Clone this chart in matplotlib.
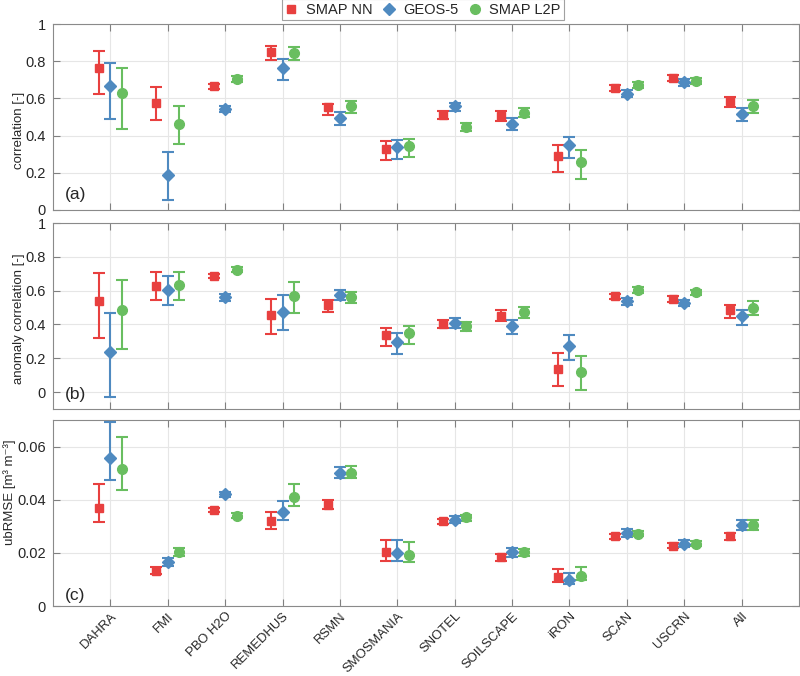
import matplotlib.pyplot as plt
from matplotlib.lines import Line2D
import numpy as np

plt.rcParams['font.family'] = ['Liberation Sans', 'DejaVu Sans']

redes = ['DAHRA', 'FMI', 'PBO H2O', 'REMEDHUS', 'RSMN', 'SMOSMANIA',
         'SNOTEL', 'SOILSCAPE', 'iRON', 'SCAN', 'USCRN', 'All']
modelos = ['SMAP NN', 'GEOS-5', 'SMAP L2P']

# (a) correlation: valor, limite inferior, limite superior
r_nn = [0.762, 0.575, 0.664, 0.848, 0.552, 0.329, 0.512, 0.507, 0.289, 0.655, 0.711, 0.584]
r_nn_lo = [0.625, 0.482, 0.650, 0.807, 0.512, 0.268, 0.490, 0.480, 0.204, 0.641, 0.695, 0.552]
r_nn_hi = [0.855, 0.661, 0.679, 0.884, 0.572, 0.370, 0.534, 0.530, 0.348, 0.670, 0.727, 0.605]
r_geos = [0.664, 0.188, 0.545, 0.762, 0.495, 0.341, 0.557, 0.464, 0.348, 0.625, 0.686, 0.516]
r_geos_lo = [0.491, 0.054, 0.525, 0.698, 0.455, 0.275, 0.530, 0.430, 0.277, 0.607, 0.668, 0.477]
r_geos_hi = [0.793, 0.311, 0.561, 0.814, 0.525, 0.379, 0.575, 0.495, 0.393, 0.646, 0.704, 0.548]
r_l2p = [0.629, 0.464, 0.704, 0.846, 0.557, 0.343, 0.446, 0.521, 0.259, 0.673, 0.696, 0.561]
r_l2p_lo = [0.438, 0.354, 0.688, 0.804, 0.521, 0.286, 0.423, 0.498, 0.168, 0.655, 0.679, 0.521]
r_l2p_hi = [0.766, 0.561, 0.718, 0.879, 0.584, 0.382, 0.468, 0.546, 0.325, 0.689, 0.711, 0.589]

# (b) anomaly correlation
a_nn = [0.536, 0.629, 0.688, 0.454, 0.513, 0.335, 0.402, 0.452, 0.136, 0.566, 0.550, 0.483]
a_nn_lo = [0.320, 0.542, 0.675, 0.343, 0.473, 0.274, 0.377, 0.418, 0.034, 0.550, 0.533, 0.436]
a_nn_hi = [0.704, 0.708, 0.700, 0.552, 0.542, 0.379, 0.428, 0.485, 0.229, 0.582, 0.566, 0.515]
a_geos = [0.235, 0.606, 0.562, 0.473, 0.574, 0.298, 0.408, 0.389, 0.274, 0.536, 0.527, 0.448]
a_geos_lo = [-0.030, 0.517, 0.540, 0.365, 0.546, 0.227, 0.381, 0.343, 0.191, 0.513, 0.507, 0.396]
a_geos_hi = [0.467, 0.688, 0.582, 0.572, 0.601, 0.349, 0.436, 0.426, 0.339, 0.556, 0.546, 0.485]
a_l2p = [0.487, 0.635, 0.724, 0.566, 0.562, 0.347, 0.389, 0.473, 0.118, 0.606, 0.590, 0.497]
a_l2p_lo = [0.256, 0.546, 0.710, 0.467, 0.527, 0.286, 0.363, 0.438, 0.010, 0.586, 0.572, 0.454]
a_l2p_hi = [0.665, 0.710, 0.738, 0.653, 0.592, 0.389, 0.412, 0.501, 0.211, 0.621, 0.606, 0.536]

# (c) ubRMSE
u_nn = [0.0369, 0.0132, 0.0360, 0.0319, 0.0380, 0.0202, 0.0319, 0.0184, 0.0108, 0.0262, 0.0227, 0.0262]
u_nn_lo = [0.0315, 0.0121, 0.0352, 0.0291, 0.0366, 0.0171, 0.0309, 0.0171, 0.0092, 0.0252, 0.0218, 0.0250]
u_nn_hi = [0.0460, 0.0145, 0.0369, 0.0354, 0.0398, 0.0248, 0.0329, 0.0197, 0.0141, 0.0272, 0.0237, 0.0275]
u_geos = [0.0558, 0.0165, 0.0420, 0.0353, 0.0499, 0.0199, 0.0325, 0.0202, 0.0098, 0.0275, 0.0234, 0.0303]
u_geos_lo = [0.0476, 0.0149, 0.0410, 0.0325, 0.0482, 0.0168, 0.0313, 0.0184, 0.0083, 0.0260, 0.0222, 0.0287]
u_geos_hi = [0.0694, 0.0182, 0.0430, 0.0395, 0.0524, 0.0250, 0.0338, 0.0217, 0.0126, 0.0290, 0.0247, 0.0323]
u_l2p = [0.0514, 0.0205, 0.0340, 0.0411, 0.0499, 0.0193, 0.0334, 0.0202, 0.0113, 0.0272, 0.0234, 0.0303]
u_l2p_lo = [0.0436, 0.0190, 0.0332, 0.0378, 0.0482, 0.0164, 0.0321, 0.0187, 0.0096, 0.0262, 0.0226, 0.0287]
u_l2p_hi = [0.0637, 0.0220, 0.0349, 0.0459, 0.0527, 0.0240, 0.0344, 0.0216, 0.0147, 0.0284, 0.0245, 0.0323]

colores = ['#E8403F', '#4F8AC0', '#69BE60']
marcadores = ['s', 'D', 'o']
tamanos = [6, 6.5, 7]
desplaz = [-0.2, 0.0, 0.2]

# datos, etiqueta, limites, ticks, letra, y de la letra, posicion de la etiqueta
paneles = [
    ([r_nn, r_geos, r_l2p], [r_nn_lo, r_geos_lo, r_l2p_lo], [r_nn_hi, r_geos_hi, r_l2p_hi],
     'correlation [-]', (0, 1), np.arange(0, 1.01, 0.2), '(a)', 0.06, (-0.037, 0.43)),
    ([a_nn, a_geos, a_l2p], [a_nn_lo, a_geos_lo, a_l2p_lo], [a_nn_hi, a_geos_hi, a_l2p_hi],
     'anomaly correlation [-]', (-0.1, 1), np.arange(0, 1.01, 0.2), '(b)', 0.054, (-0.037, 0.484)),
    ([u_nn, u_geos, u_l2p], [u_nn_lo, u_geos_lo, u_l2p_lo], [u_nn_hi, u_geos_hi, u_l2p_hi],
     'ubRMSE [m\u00b3 m\u207b\u00b3]', (0, 0.07), np.arange(0, 0.061, 0.02), '(c)', 0.034, (-0.050, 0.613)),
]

fig = plt.figure(figsize=(8, 6.76), dpi=100)
H = 676.0
W = 800.0
# limites en pixeles (izq, arriba, der, abajo)
cajas = [(53, 24, 799, 210), (53, 223, 799, 409), (53, 420, 799, 606)]

x = np.arange(1, len(redes) + 1)
gris = '#262626'
for k, (vals, los, his, ylab, ylim, yt, letra, ytxt, lpos) in enumerate(paneles):
    l, t, r, b = cajas[k]
    ax = fig.add_axes([l / W, 1 - b / H, (r - l) / W, (b - t) / H])
    for i in range(3):
        v = np.array(vals[i])
        err = [v - np.array(los[i]), np.array(his[i]) - v]
        ax.errorbar(x + desplaz[i], v, yerr=err, fmt=marcadores[i], color=colores[i],
                    ms=tamanos[i], mec=colores[i], elinewidth=1.5,
                    capsize=4.5, capthick=1.5, zorder=3)
    ax.set_xlim(0, 13)
    ax.set_ylim(*ylim)
    ax.set_xticks(x)
    ax.set_yticks(yt)
    ax.grid(True, color='#E6E6E6', linewidth=0.8)
    ax.set_axisbelow(True)
    ax.tick_params(direction='in', length=5, width=0.8, color='#808080', labelcolor=gris,
                   labelsize=10.5, top=True, right=True)
    ax.tick_params(axis='y', pad=5)
    if k == 2:
        ax.set_yticklabels(['0', '0.02', '0.04', '0.06'])
        ax.set_xticklabels(redes, rotation=45, ha='right', va='top',
                           rotation_mode='anchor')
        ax.tick_params(axis='x', pad=3, labelsize=9.4)
    else:
        ax.set_yticklabels(['%g' % v for v in yt])
        ax.set_xticklabels([])
    for s in ax.spines.values():
        s.set_color('#8A8A8A')
        s.set_linewidth(0.8)
    ax.set_ylabel(ylab, fontsize=9.5, color=gris)
    ax.yaxis.set_label_coords(*lpos)
    ax.text(0.016, ytxt, letra, transform=ax.transAxes, fontsize=12.5, color=gris,
            va='baseline')

handles = [Line2D([], [], ls='none', marker=marcadores[i], color=colores[i],
                  ms=tamanos[i]) for i in range(3)]
leg = fig.legend(handles, modelos, loc='upper center', ncol=3,
                 bbox_to_anchor=(423 / W, 1.0 + 1 / H), frameon=True, fancybox=False,
                 fontsize=10.5, handletextpad=0.6, columnspacing=0.7,
                 borderpad=0.25, borderaxespad=0, handlelength=0.8)
leg.get_frame().set_edgecolor('#8A8A8A')
leg.get_frame().set_linewidth(0.8)
for t_ in leg.get_texts():
    t_.set_color(gris)

plt.savefig('out.png', dpi=100)
